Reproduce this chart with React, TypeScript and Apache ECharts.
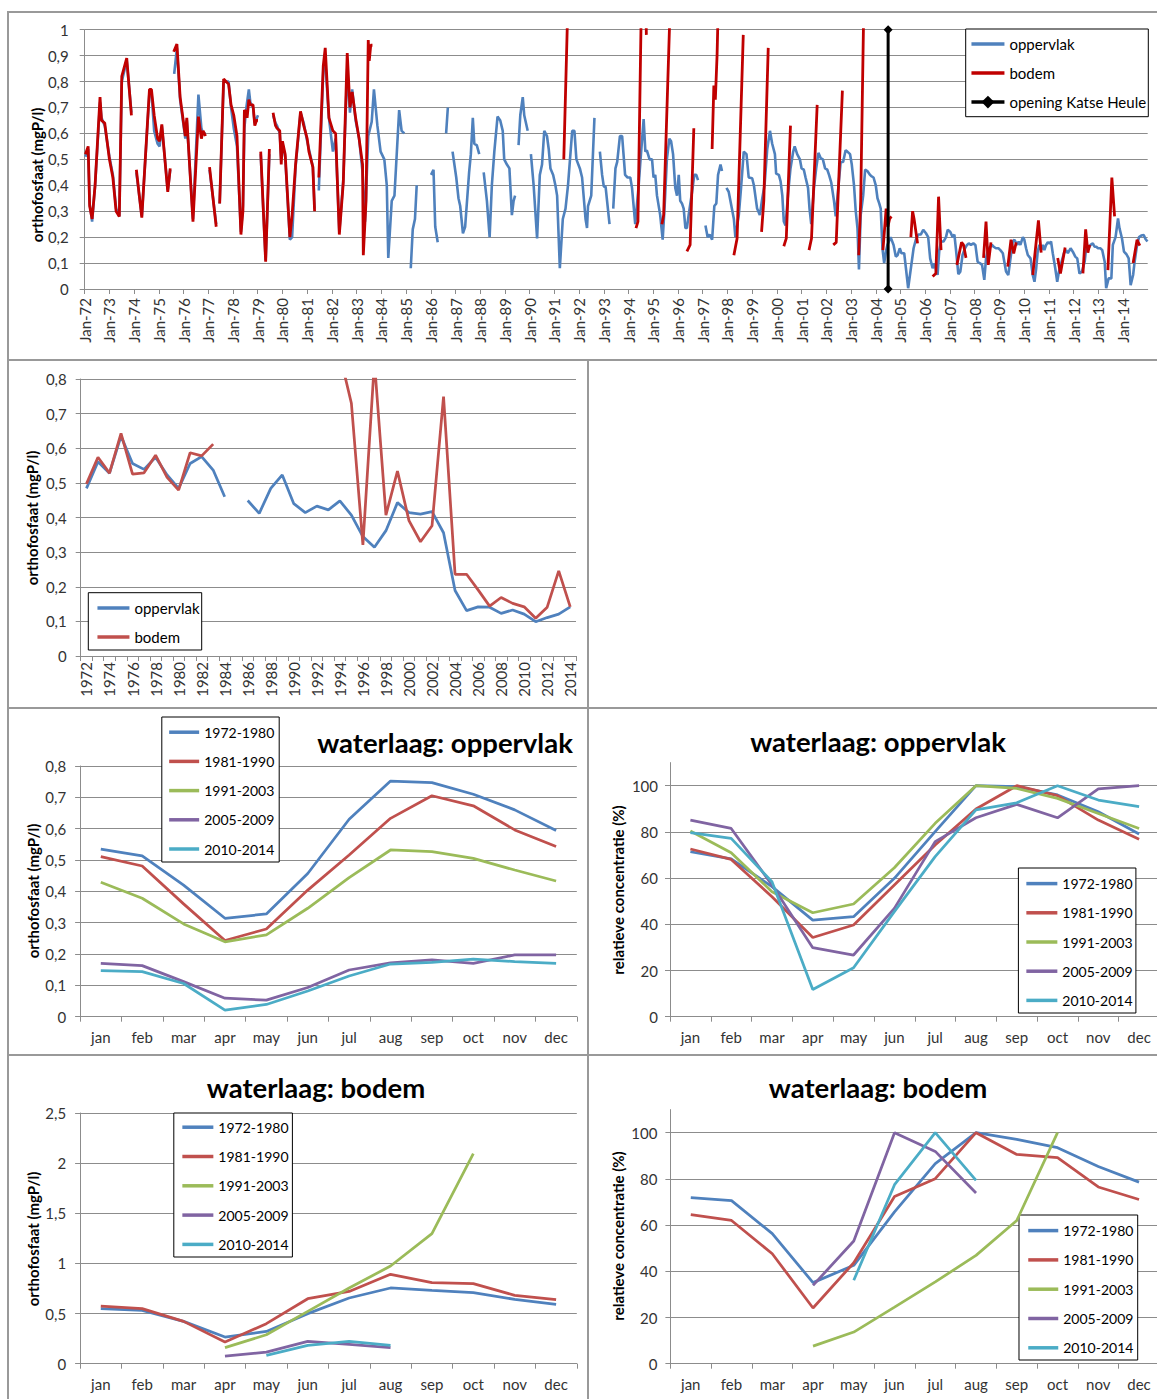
import React, { useEffect, useRef } from 'react';
import * as echarts from 'echarts';

const FONT = 'Lato, "Noto Sans", sans-serif';
const BLUE = '#4F81BD';
const RED_DARK = '#C00000';
const RED = '#C0504D';
const GREEN = '#9BBB59';
const PURPLE = '#8064A2';
const CYAN = '#4BACC6';
const GRID = '#8c8c8c';
const TXT = '#333333';

// ---------- Panel 1: monthly series (decimal year, mgP/l), segments separated by gaps ----------
const oppervlak1972_1985 = [
  [[1972.03,0.51],[1972.14,0.54],[1972.2,0.33],[1972.3,0.26],[1972.42,0.40],[1972.62,0.72],[1972.68,0.66],[1972.81,0.63],[1973.0,0.51],[1973.14,0.44],[1973.27,0.31],[1973.4,0.28],[1973.5,0.80],[1973.7,0.88],[1973.89,0.68]],
  [[1974.09,0.45],[1974.31,0.28],[1974.62,0.76],[1974.7,0.76],[1974.81,0.61],[1974.95,0.56],[1975.03,0.55],[1975.12,0.63],[1975.36,0.38],[1975.46,0.46]],
  [[1975.62,0.83],[1975.73,0.93],[1975.86,0.73],[1976.07,0.58],[1976.13,0.65],[1976.38,0.27],[1976.6,0.75],[1976.72,0.62],[1976.79,0.60],[1976.89,0.60]],
  [[1977.05,0.46],[1977.32,0.25]],
  [[1977.46,0.33],[1977.62,0.80],[1977.82,0.80],[1977.92,0.70],[1978.03,0.62],[1978.16,0.55],[1978.32,0.22],[1978.4,0.32],[1978.46,0.62],[1978.54,0.70],[1978.64,0.77],[1978.7,0.72],[1978.81,0.70],[1978.88,0.64],[1979.01,0.67]],
  [[1979.12,0.52],[1979.32,0.11],[1979.47,0.52]],
  [[1979.62,0.67],[1979.72,0.64],[1979.78,0.63],[1979.89,0.60],[1979.95,0.50],[1980.0,0.56],[1980.11,0.51],[1980.3,0.19],[1980.39,0.20],[1980.53,0.47],[1980.73,0.68],[1980.86,0.64],[1981.0,0.57],[1981.07,0.54],[1981.23,0.47],[1981.3,0.31]],
  [[1981.47,0.38],[1981.65,0.84],[1981.73,0.88],[1981.88,0.66],[1982.04,0.53],[1982.15,0.58],[1982.3,0.22],[1982.46,0.42],[1982.62,0.85],[1982.73,0.68],[1982.82,0.77],[1982.96,0.65],[1983.1,0.58],[1983.24,0.45],[1983.34,0.26],[1983.47,0.59],[1983.61,0.645],[1983.7,0.77],[1983.84,0.63],[1983.97,0.53],[1984.12,0.50],[1984.22,0.40],[1984.28,0.12],[1984.42,0.34],[1984.53,0.36],[1984.72,0.69],[1984.82,0.61],[1984.93,0.60]],
  [[1985.19,0.08],[1985.27,0.23],[1985.36,0.27],[1985.43,0.40]],
];

const oppervlak1986_1997 = [
  [[1986.01,0.44],[1986.11,0.46],[1986.18,0.24],[1986.28,0.18]],
  [[1986.62,0.60],[1986.69,0.70]],
  [[1986.88,0.53],[1987.03,0.43],[1987.12,0.35],[1987.19,0.32],[1987.3,0.215],[1987.39,0.24],[1987.55,0.45],[1987.62,0.52],[1987.7,0.66],[1987.76,0.56],[1987.86,0.555],[1987.96,0.52]],
  [[1988.14,0.45],[1988.27,0.34],[1988.38,0.20],[1988.47,0.40],[1988.57,0.53],[1988.7,0.665],[1988.81,0.65],[1988.91,0.61],[1988.97,0.50],[1989.08,0.48],[1989.18,0.465],[1989.28,0.285],[1989.35,0.34],[1989.41,0.36]],
  [[1989.55,0.555],[1989.62,0.67],[1989.72,0.74],[1989.78,0.67],[1989.92,0.61]],
  [[1990.05,0.52],[1990.16,0.40],[1990.3,0.195],[1990.41,0.44],[1990.5,0.48],[1990.59,0.61],[1990.7,0.59],[1990.77,0.54],[1990.84,0.465],[1990.95,0.44],[1991.04,0.40],[1991.11,0.36],[1991.22,0.08],[1991.34,0.27],[1991.45,0.31],[1991.55,0.40],[1991.72,0.61],[1991.81,0.61],[1991.89,0.50],[1992.03,0.465],[1992.12,0.43],[1992.26,0.27],[1992.32,0.235],[1992.36,0.32],[1992.49,0.36],[1992.62,0.66]],
  [[1992.84,0.53],[1992.93,0.44],[1993.0,0.395],[1993.07,0.395],[1993.23,0.25]],
  [[1993.38,0.31],[1993.47,0.465],[1993.54,0.49],[1993.65,0.59],[1993.74,0.59],[1993.86,0.44],[1993.96,0.43],[1994.07,0.43],[1994.14,0.39],[1994.27,0.25],[1994.41,0.40],[1994.47,0.48],[1994.61,0.655],[1994.68,0.53],[1994.74,0.535],[1994.85,0.50],[1994.95,0.50],[1995.01,0.43],[1995.08,0.44],[1995.15,0.36],[1995.28,0.285],[1995.38,0.19],[1995.46,0.32],[1995.55,0.50],[1995.65,0.58],[1995.72,0.57],[1995.8,0.52],[1995.89,0.39],[1995.96,0.36],[1996.03,0.44],[1996.09,0.34],[1996.16,0.33],[1996.23,0.31],[1996.3,0.235],[1996.36,0.235],[1996.43,0.285],[1996.57,0.375],[1996.66,0.44],[1996.74,0.44],[1996.81,0.42]],
  [[1997.11,0.245],[1997.2,0.20],[1997.28,0.21],[1997.38,0.19],[1997.47,0.32],[1997.55,0.33],[1997.62,0.44],[1997.72,0.48],[1997.78,0.455]],
];

const oppervlak1998_2014 = [
  [[1997.96,0.39],[1998.05,0.375],[1998.16,0.32],[1998.26,0.27],[1998.32,0.20],[1998.46,0.285],[1998.55,0.39],[1998.66,0.53],[1998.77,0.52],[1998.86,0.43],[1999.0,0.427],[1999.07,0.40],[1999.2,0.31],[1999.31,0.285],[1999.41,0.35],[1999.5,0.40],[1999.61,0.54],[1999.72,0.61],[1999.81,0.56],[1999.92,0.52],[1999.97,0.445],[2000.08,0.44],[2000.15,0.415],[2000.22,0.36],[2000.28,0.26],[2000.35,0.245],[2000.46,0.375],[2000.55,0.465],[2000.66,0.53],[2000.72,0.55],[2000.82,0.52],[2000.93,0.50],[2001.0,0.465],[2001.09,0.46],[2001.16,0.43],[2001.26,0.39],[2001.32,0.31],[2001.39,0.25],[2001.5,0.39],[2001.59,0.465],[2001.68,0.525],[2001.77,0.505],[2001.86,0.50],[2001.95,0.465],[2002.04,0.46],[2002.11,0.44],[2002.2,0.41],[2002.31,0.34],[2002.38,0.28],[2002.47,0.375],[2002.58,0.49],[2002.68,0.49],[2002.78,0.535],[2002.85,0.53],[2002.96,0.52],[2003.03,0.48],[2003.12,0.40],[2003.19,0.30],[2003.26,0.235],[2003.32,0.075],[2003.39,0.285],[2003.49,0.36],[2003.57,0.46],[2003.66,0.455],[2003.77,0.44],[2003.82,0.435],[2003.91,0.43],[2004.0,0.40],[2004.07,0.35],[2004.14,0.33],[2004.2,0.31],[2004.27,0.157],[2004.34,0.10],[2004.41,0.145],[2004.47,0.17],[2004.6,0.20],[2004.72,0.17],[2004.81,0.125],[2004.88,0.13],[2004.97,0.157],[2005.04,0.138],[2005.15,0.138],[2005.22,0.08],[2005.31,0.003],[2005.42,0.08],[2005.53,0.157],[2005.62,0.19],[2005.72,0.21],[2005.82,0.21],[2005.92,0.228],[2006.03,0.215],[2006.12,0.20],[2006.2,0.118],[2006.3,0.08],[2006.36,0.099],[2006.5,0.054],[2006.57,0.15],[2006.64,0.183],[2006.74,0.183],[2006.84,0.20],[2006.91,0.228],[2007.01,0.221],[2007.11,0.20],[2007.18,0.21],[2007.24,0.157],[2007.34,0.057],[2007.42,0.067],[2007.51,0.131],[2007.61,0.157],[2007.69,0.17],[2007.76,0.176],[2007.85,0.17],[2007.95,0.176],[2008.03,0.17],[2008.12,0.105],[2008.22,0.099],[2008.3,0.093],[2008.39,0.035],[2008.46,0.118],[2008.55,0.157],[2008.64,0.163],[2008.7,0.17],[2008.77,0.163],[2008.86,0.157],[2008.96,0.157],[2009.04,0.15],[2009.14,0.138],[2009.2,0.105],[2009.27,0.067],[2009.36,0.054],[2009.45,0.118],[2009.54,0.183],[2009.61,0.19],[2009.72,0.17],[2009.78,0.183],[2009.85,0.17],[2009.95,0.20],[2010.01,0.19],[2010.08,0.157],[2010.15,0.131],[2010.26,0.118],[2010.35,0.054],[2010.42,0.028],[2010.49,0.08],[2010.55,0.144],[2010.62,0.17],[2010.69,0.15],[2010.76,0.17],[2010.82,0.15],[2010.89,0.17],[2010.96,0.18],[2011.03,0.176],[2011.09,0.183],[2011.16,0.138],[2011.26,0.08],[2011.34,0.028],[2011.41,0.067],[2011.5,0.099],[2011.61,0.138],[2011.7,0.15],[2011.77,0.138],[2011.88,0.157],[2011.97,0.144],[2012.07,0.125],[2012.15,0.118],[2012.24,0.06],[2012.34,0.067],[2012.45,0.105],[2012.51,0.157],[2012.61,0.157],[2012.69,0.17],[2012.78,0.176],[2012.85,0.163],[2012.92,0.163],[2012.99,0.157],[2013.09,0.157],[2013.16,0.15],[2013.26,0.105],[2013.32,0.003],[2013.42,0.041],[2013.53,0.041],[2013.59,0.17],[2013.7,0.20],[2013.8,0.272],[2013.86,0.234],[2013.96,0.195],[2014.04,0.144],[2014.14,0.134],[2014.23,0.118],[2014.31,0.015],[2014.41,0.054],[2014.47,0.105],[2014.57,0.17],[2014.65,0.20],[2014.74,0.206],[2014.84,0.208],[2014.91,0.193],[2014.99,0.183]],
];

const bodem1972_1984 = [
  [[1972.03,0.52],[1972.14,0.55],[1972.2,0.32],[1972.3,0.27],[1972.42,0.40],[1972.62,0.74],[1972.68,0.65],[1972.81,0.64],[1973.0,0.50],[1973.14,0.43],[1973.27,0.30],[1973.4,0.28],[1973.5,0.82],[1973.7,0.89],[1973.89,0.67]],
  [[1974.09,0.46],[1974.31,0.275],[1974.62,0.77],[1974.7,0.77],[1974.81,0.67],[1974.95,0.58],[1975.03,0.57],[1975.12,0.635],[1975.36,0.375],[1975.46,0.465]],
  [[1975.6,0.915],[1975.73,0.945],[1975.86,0.74],[1976.07,0.59],[1976.13,0.66],[1976.38,0.26],[1976.6,0.665],[1976.72,0.58],[1976.79,0.61],[1976.89,0.59]],
  [[1977.05,0.47],[1977.32,0.24]],
  [[1977.46,0.33],[1977.62,0.81],[1977.82,0.79],[1977.92,0.71],[1978.03,0.67],[1978.16,0.59],[1978.32,0.21],[1978.4,0.30],[1978.46,0.69],[1978.54,0.68],[1978.57,0.66],[1978.64,0.73],[1978.7,0.71],[1978.81,0.71],[1978.88,0.63],[1978.95,0.65],[1979.01,0.65]],
  [[1979.12,0.53],[1979.32,0.105],[1979.47,0.54]],
  [[1979.62,0.68],[1979.72,0.63],[1979.78,0.62],[1979.89,0.61],[1979.95,0.48],[1980.0,0.57],[1980.11,0.52],[1980.3,0.20],[1980.39,0.285],[1980.53,0.48],[1980.73,0.685],[1980.86,0.63],[1981.0,0.58],[1981.07,0.53],[1981.23,0.47],[1981.3,0.30]],
  [[1981.47,0.43],[1981.65,0.86],[1981.73,0.93],[1981.88,0.66],[1982.04,0.61],[1982.15,0.60],[1982.3,0.21],[1982.46,0.41],[1982.62,0.91],[1982.73,0.70],[1982.82,0.76],[1982.96,0.66],[1983.1,0.58],[1983.24,0.48],[1983.27,0.13],[1983.38,0.34],[1983.47,0.96],[1983.51,0.88],[1983.57,0.94],[1983.64,0.94]],
];

const bodem1991_2004 = [
  [[1991.38,0.50],[1991.6,1.3]],
  [[1994.3,0.235],[1994.38,0.26],[1994.55,1.3],[1994.66,1.3],[1994.72,0.98]],
  [[1995.35,0.25],[1995.42,0.285],[1995.75,1.3]],
  [[1996.36,0.145],[1996.49,0.17],[1996.64,0.62]],
  [[1997.38,0.54],[1997.45,0.785],[1997.51,0.73],[1997.58,0.9],[1997.68,1.3]],
  [[1998.26,0.13],[1998.39,0.195],[1998.64,0.98]],
  [[1999.38,0.22],[1999.47,0.34],[1999.65,0.93]],
  [[2000.28,0.165],[2000.38,0.195],[2000.55,0.63]],
  [[2001.3,0.15],[2001.4,0.195],[2001.63,0.71]],
  [[2002.28,0.17],[2002.4,0.18],[2002.65,0.765]],
  [[2003.31,0.13],[2003.39,0.34],[2003.55,1.3]],
  [[2004.29,0.15],[2004.42,0.31],[2004.49,0.24],[2004.56,0.27],[2004.63,0.28]],
];

const bodem2005_2014 = [
  [[2005.42,0.20],[2005.49,0.30],[2005.55,0.27],[2005.69,0.176]],
  [[2006.3,0.048],[2006.43,0.06],[2006.54,0.356],[2006.64,0.15]],
  [[2007.28,0.093],[2007.47,0.18],[2007.55,0.17],[2007.65,0.12]],
  [[2008.36,0.12],[2008.46,0.26],[2008.55,0.093],[2008.66,0.18]],
  [[2009.34,0.086],[2009.47,0.19],[2009.58,0.137],[2009.68,0.18]],
  [[2010.35,0.054],[2010.58,0.265],[2010.69,0.14]],
  [[2011.36,0.12],[2011.47,0.06],[2011.66,0.16]],
  [[2012.38,0.06],[2012.49,0.23],[2012.58,0.14],[2012.65,0.17]],
  [[2013.39,0.073],[2013.55,0.43],[2013.66,0.28]],
  [[2014.41,0.10],[2014.57,0.19],[2014.68,0.167]],
];

const katseHeule = [[2004.5, 0], [2004.5, 1]];

// ---------- Panel 2: yearly means ----------
const years = ['1972','1973','1974','1975','1976','1977','1978','1979','1980','1981','1982','1983','1984','1985','1986','1987','1988','1989','1990','1991','1992','1993','1994','1995','1996','1997','1998','1999','2000','2001','2002','2003','2004','2005','2006','2007','2008','2009','2010','2011','2012','2013','2014'];
const oppervlakYear = [0.484,0.561,0.528,0.635,0.556,0.539,0.574,0.523,0.484,0.556,0.576,0.537,0.460,null,0.449,0.412,0.484,0.523,0.44,0.414,0.433,0.422,0.448,0.407,0.345,0.314,0.362,0.443,0.414,0.410,0.417,0.356,0.189,0.131,0.142,0.141,0.123,0.133,0.121,0.099,0.111,0.121,0.142];
const bodemYear = [0.497,0.574,0.528,0.643,0.525,0.529,0.580,0.516,0.479,0.587,0.578,0.612,null,null,null,null,null,null,null,null,null,null,0.87,0.73,0.321,0.85,0.407,0.534,0.391,0.330,0.376,0.749,0.236,0.236,0.191,0.144,0.169,0.152,0.142,0.109,0.141,0.246,0.142];

// ---------- Panels 3-6: monthly means per period ----------
const months = ['jan','feb','mar','apr','may','jun','jul','aug','sep','oct','nov','dec'];
const periods = ['1972-1980','1981-1990','1991-2003','2005-2009','2010-2014'];
const periodColors = [BLUE, RED, GREEN, PURPLE, CYAN];

const opp7280 = [0.535,0.513,0.42,0.314,0.328,0.457,0.63,0.752,0.747,0.71,0.66,0.594];
const opp8190 = [0.511,0.481,0.36,0.243,0.28,0.404,0.516,0.633,0.705,0.673,0.596,0.543];
const opp9103 = [0.429,0.378,0.296,0.239,0.261,0.346,0.444,0.532,0.527,0.505,0.468,0.433];
const opp0509 = [0.17,0.163,0.112,0.059,0.053,0.093,0.149,0.172,0.181,0.17,0.197,0.197];
const opp1014 = [0.147,0.144,0.106,0.021,0.039,0.082,0.13,0.168,0.173,0.184,0.176,0.17];

const oppRel7280 = [71.4,68.3,56.3,41.8,43.3,59.9,80.1,100,99.6,96,88.7,79.1];
const oppRel8190 = [72.6,68.1,51.9,34.3,39.7,57,74.3,89.9,100,95.7,85.1,76.8];
const oppRel9103 = [80.4,71,54.1,45,48.8,64.5,83.7,100,98.8,94.5,88,81.5];
const oppRel0509 = [85.1,81.5,57,29.9,26.7,46.9,75.8,86.1,91.9,86.1,98.6,100];
const oppRel1014 = [79.7,77.2,58.4,11.8,21.2,45.5,69.3,89.5,92.6,100,93.8,90.9];

const bod7280 = [0.549,0.532,0.422,0.266,0.322,0.499,0.655,0.755,0.731,0.708,0.642,0.592];
const bod8190 = [0.575,0.549,0.422,0.216,0.399,0.648,0.721,0.891,0.808,0.798,0.682,0.638];
const bod9103 = [null,null,null,0.16,0.289,0.522,0.755,0.974,1.297,2.094,null,null];
const bod0509 = [null,null,null,0.076,0.116,0.223,0.193,0.16,null,null,null,null];
const bod1014 = [null,null,null,null,0.083,0.183,0.223,0.183,null,null,null,null];

const bodRel7280 = [71.9,70.6,56.3,35.1,42.6,65.7,86.6,100,97.1,93.5,85.4,78.6];
const bodRel8190 = [64.5,62,47.6,24.1,43.7,72.4,80.1,100,90.6,89.2,76.5,71.1];
const bodRel9103 = [null,null,null,7.6,13.7,24.5,35.4,46.9,62,100,null,null];
const bodRel0509 = [null,null,null,33.9,53.1,100,91.9,73.9,null,null,null,null];
const bodRel1014 = [null,null,null,null,36.1,77.5,100,79.4,null,null,null,null];

// ---------- helpers ----------
function joinSegments(...groups: number[][][][]): (number | null)[][] {
  const segs = groups.flat();
  const out: (number | null)[][] = [];
  segs.forEach((seg, i) => {
    if (i > 0) {
      const prev = segs[i - 1];
      out.push([(prev[prev.length - 1][0] + seg[0][0]) / 2, null]);
    }
    seg.forEach((p) => out.push([p[0], p[1]]));
  });
  return out;
}

const numLabel = (v: number) => String(Number(v.toFixed(2))).replace('.', ',');
const axisLineStyle = { color: GRID, width: 1 };
const labelStyle = { color: TXT, fontSize: 15, fontFamily: FONT };

function valueY(gridIndex: number, max: number, interval: number, margin: number, hideTop = false) {
  return {
    type: 'value', gridIndex, min: 0, max, interval,
    axisLine: { show: true, lineStyle: axisLineStyle },
    axisTick: { show: true, length: 5, lineStyle: axisLineStyle },
    splitLine: { show: true, lineStyle: { color: GRID, width: 1 }, showMaxLine: !hideTop },
    axisLabel: { ...labelStyle, margin, formatter: numLabel, showMaxLabel: hideTop ? false : undefined },
  };
}

function monthX(gridIndex: number) {
  return {
    type: 'category', gridIndex, data: months, boundaryGap: true,
    axisLine: { show: true, lineStyle: axisLineStyle },
    axisTick: { show: true, length: 5, lineStyle: axisLineStyle, interval: 0 },
    axisLabel: { ...labelStyle, margin: 13, interval: 0 },
    splitLine: { show: false },
  };
}

function periodSeries(axisIndex: number, sets: (number | null)[][]) {
  return sets.map((d, i) => ({
    type: 'line', name: periods[i], xAxisIndex: axisIndex, yAxisIndex: axisIndex, data: d,
    symbol: 'none', connectNulls: false,
    lineStyle: { width: 2.75, color: periodColors[i] }, itemStyle: { color: periodColors[i] },
  }));
}

// legend: line-only icons (symbol made transparent), text close to the icon
function legendAt(names: any[], left: number, top: number, itemWidth: number, itemGap: number, fontSize: number) {
  return {
    orient: 'vertical', left, top, padding: 0, data: names, itemWidth, itemHeight: 16, itemGap,
    selectedMode: false,
    itemStyle: { color: 'rgba(0,0,0,0)', borderWidth: 0, borderColor: 'rgba(0,0,0,0)' },
    lineStyle: { width: 3.5 },
    textStyle: { fontSize, fontFamily: FONT, color: '#000' },
  };
}

function rect(x: number, y: number, w: number, h: number, fill: string, stroke: string, lw: number, z: number) {
  return { type: 'rect', z, shape: { x, y, width: w, height: h }, style: { fill, stroke, lineWidth: lw } };
}

function label(x: number, y: number, text: string, size: number, vertical: boolean) {
  return {
    type: 'text', x, y, z: 5, rotation: vertical ? Math.PI / 2 : 0,
    style: {
      text, fontSize: size, fontWeight: 'bold', fontFamily: FONT, fill: '#000',
      align: 'center', verticalAlign: 'middle', textAlign: 'center', textVerticalAlign: 'middle',
    },
  };
}

export default function App() {
  const ref = useRef<HTMLDivElement>(null);

  useEffect(() => {
    document.body.style.margin = '0';
    if (!ref.current) return;
    const chart = echarts.init(ref.current, null, { renderer: 'svg' });

    const option: any = {
      animation: false,
      backgroundColor: '#fff',
      textStyle: { fontFamily: FONT },
      grid: [
        { left: 84.7, top: 29.7, width: 1063, height: 259.3, outerBoundsMode: 'none' },
        { left: 80.7, top: 379, width: 495.3, height: 277, outerBoundsMode: 'none' },
        { left: 80.1, top: 766, width: 496.7, height: 250.7, outerBoundsMode: 'none' },
        { left: 670, top: 762.6, width: 489.5, height: 254.1, outerBoundsMode: 'none' },
        { left: 80.1, top: 1113, width: 496.7, height: 250.7, outerBoundsMode: 'none' },
        { left: 670.4, top: 1109.6, width: 489, height: 254.1, outerBoundsMode: 'none' },
      ],
      xAxis: [
        {
          type: 'value', gridIndex: 0, min: 1972, max: 2015, interval: 1,
          axisLine: { show: true, lineStyle: axisLineStyle },
          axisTick: { show: true, length: 5, lineStyle: axisLineStyle },
          splitLine: { show: false },
          axisLabel: {
            ...labelStyle, rotate: 90, margin: 9, showMaxLabel: false,
            formatter: (v: number) => 'Jan-' + String(Math.round(v)).slice(2),
          },
        },
        {
          type: 'category', gridIndex: 1, data: years, boundaryGap: true,
          axisLine: { show: true, lineStyle: axisLineStyle },
          axisTick: { show: true, length: 5, lineStyle: axisLineStyle, interval: 0 },
          axisLabel: { ...labelStyle, rotate: 90, margin: 6, interval: 1 },
          splitLine: { show: false },
        },
        monthX(2), monthX(3), monthX(4), monthX(5),
      ],
      yAxis: [
        valueY(0, 1, 0.1, 16),
        valueY(1, 0.8, 0.1, 14),
        valueY(2, 0.8, 0.1, 14),
        valueY(3, 110, 20, 12, true),
        valueY(4, 2.5, 0.5, 14),
        valueY(5, 110, 20, 13, true),
      ],
      legend: [
        legendAt(['oppervlak', 'bodem', { name: 'opening Katse Heule', itemStyle: { color: '#000', borderWidth: 0 } }], 969.7, 36.6, 33, 14, 15),
        legendAt(['oppervlak ', 'bodem '], 95.7, 600.6, 32, 13.8, 15),
        legendAt(periods, 167.4, 725.2, 30, 15.2, 14),
        legendAt(periods, 1024.6, 876.6, 31, 15.2, 14),
        legendAt(periods, 180.6, 1120.2, 31, 15.3, 14),
        legendAt(periods, 1026.5, 1223.6, 30, 15.3, 14),
      ],
      series: [
        {
          type: 'line', name: 'oppervlak', xAxisIndex: 0, yAxisIndex: 0,
          data: joinSegments(oppervlak1972_1985, oppervlak1986_1997, oppervlak1998_2014),
          symbol: 'none', connectNulls: false, clip: true,
          lineStyle: { width: 2.6, color: BLUE }, itemStyle: { color: BLUE },
        },
        {
          type: 'line', name: 'bodem', xAxisIndex: 0, yAxisIndex: 0,
          data: joinSegments(bodem1972_1984, bodem1991_2004, bodem2005_2014),
          symbol: 'none', connectNulls: false, clip: true,
          lineStyle: { width: 2.8, color: RED_DARK }, itemStyle: { color: RED_DARK },
        },
        {
          type: 'line', name: 'opening Katse Heule', xAxisIndex: 0, yAxisIndex: 0,
          data: katseHeule, symbol: 'diamond', symbolSize: 9, showSymbol: true, clip: false,
          lineStyle: { width: 3, color: '#000' }, itemStyle: { color: '#000' },
        },
        {
          type: 'line', name: 'oppervlak ', xAxisIndex: 1, yAxisIndex: 1, data: oppervlakYear,
          symbol: 'none', connectNulls: false,
          lineStyle: { width: 2.75, color: BLUE }, itemStyle: { color: BLUE },
        },
        {
          type: 'line', name: 'bodem ', xAxisIndex: 1, yAxisIndex: 1, data: bodemYear,
          symbol: 'none', connectNulls: false,
          lineStyle: { width: 2.75, color: RED }, itemStyle: { color: RED },
        },
        ...periodSeries(2, [opp7280, opp8190, opp9103, opp0509, opp1014]),
        ...periodSeries(3, [oppRel7280, oppRel8190, oppRel9103, oppRel0509, oppRel1014]),
        ...periodSeries(4, [bod7280, bod8190, bod9103, bod0509, bod1014]),
        ...periodSeries(5, [bodRel7280, bodRel8190, bodRel9103, bodRel0509, bodRel1014]),
      ],
      graphic: [
        rect(8, 12, 1160, 348, 'none', '#999', 2, 1),
        rect(8, 360, 580, 348, 'none', '#999', 2, 1),
        rect(8, 708, 580, 347, 'none', '#999', 2, 1),
        rect(588, 708, 580, 347, 'none', '#999', 2, 1),
        rect(8, 1055, 580, 350, 'none', '#999', 2, 1),
        rect(588, 1055, 580, 350, 'none', '#999', 2, 1),
        rect(965.7, 29, 182.6, 87.7, '#fff', '#000', 1, 3),
        rect(88.3, 592.7, 113.4, 57.3, '#fff', '#000', 1, 3),
        rect(161.8, 717, 117.4, 145, '#fff', '#000', 1, 3),
        rect(1018.4, 868, 117.5, 145, '#fff', '#000', 1, 3),
        rect(173.8, 1113, 118.6, 144, '#fff', '#000', 1, 3),
        rect(1019, 1215, 118.7, 145, '#fff', '#000', 1, 3),
        label(37, 175, 'orthofosfaat (mgP/l)', 15, true),
        label(31.7, 518, 'orthofosfaat (mgP/l)', 15, true),
        label(33, 891, 'orthofosfaat (mgP/l)', 15, true),
        label(617.8, 890, 'relatieve concentratie (%)', 15, true),
        label(33, 1239, 'orthofosfaat (mgP/l)', 15, true),
        label(618, 1236, 'relatieve concentratie (%)', 15, true),
        label(445, 742, 'waterlaag: oppervlak', 27.5, false),
        label(878, 741, 'waterlaag: oppervlak', 27.5, false),
        label(316, 1087, 'waterlaag: bodem', 27.5, false),
        label(878, 1087, 'waterlaag: bodem', 27.5, false),
      ],
    };

    chart.setOption(option);
    return () => chart.dispose();
  }, []);

  return <div ref={ref} style={{ width: 1157, height: 1399 }} />;
}
